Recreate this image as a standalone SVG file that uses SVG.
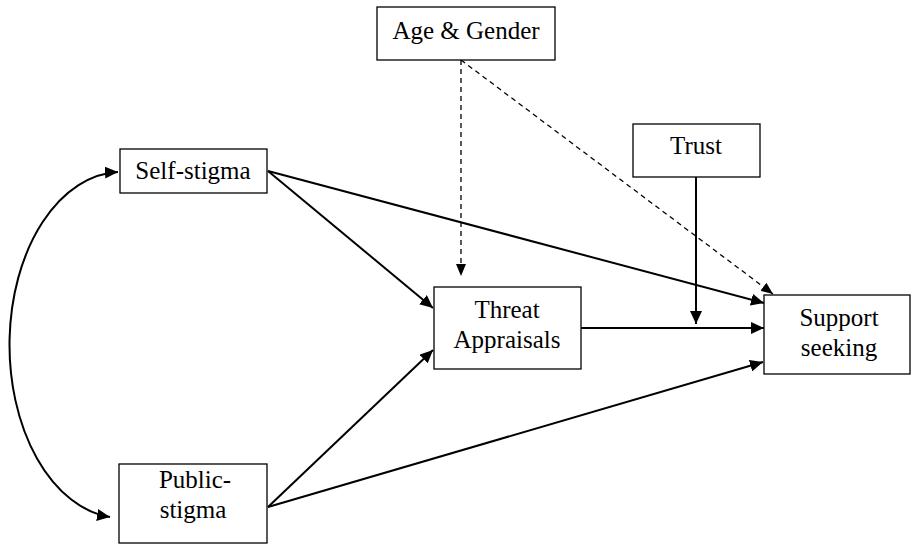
<svg xmlns="http://www.w3.org/2000/svg" width="912" height="545" viewBox="0 0 912 545">
<style>
.box{fill:#fff;stroke:#000;stroke-width:1.3}
.t{font-family:'Liberation Serif','Times New Roman',serif;font-size:25px;fill:#000;text-anchor:middle}
.c{fill:none;stroke:#000;stroke-width:2}
.d{fill:none;stroke:#000;stroke-width:1.3;stroke-dasharray:5,4}
</style>
<defs>
<marker id="ah" markerUnits="userSpaceOnUse" markerWidth="14" markerHeight="12" refX="13" refY="6" orient="auto-start-reverse">
<path d="M0,0 L13,6 L0,12 z" fill="#000"/>
</marker>
<marker id="ahs" markerUnits="userSpaceOnUse" markerWidth="12" markerHeight="11" refX="12" refY="5" orient="auto">
<path d="M0,0 L12,5 L0,10 z" fill="#000"/>
</marker>
</defs>
<g id="connectors">
<path class="c" d="M118,172 A112 173 0 0 0 110,517" marker-start="url(#ah)" marker-end="url(#ah)"/>
<line class="c" x1="268" y1="171" x2="433" y2="308" marker-end="url(#ah)"/>
<line class="c" x1="268" y1="171" x2="764" y2="303" marker-end="url(#ah)"/>
<line class="c" x1="268" y1="507" x2="433" y2="350" marker-end="url(#ah)"/>
<line class="c" x1="268" y1="507" x2="763" y2="362" marker-end="url(#ah)"/>
<line class="c" x1="581" y1="328" x2="764" y2="328" marker-end="url(#ah)"/>
<line class="c" x1="696" y1="177" x2="696" y2="324" marker-end="url(#ah)"/>
<line class="d" x1="461" y1="60" x2="461" y2="276" marker-end="url(#ahs)"/>
<line class="d" x1="461" y1="60" x2="773" y2="294" marker-end="url(#ahs)"/>
</g>
<g id="age-gender"><rect class="box" x="377" y="7" width="178" height="53"/><text class="t" x="466" y="39">Age &amp; Gender</text></g>
<g id="self-stigma"><rect class="box" x="120" y="149" width="147" height="44"/><text class="t" x="193" y="179">Self-stigma</text></g>
<g id="trust"><rect class="box" x="633" y="124" width="127" height="53"/><text class="t" x="696" y="154">Trust</text></g>
<g id="threat"><rect class="box" x="434" y="287" width="147" height="82"/><text class="t" x="507" y="318">Threat</text><text class="t" x="507" y="348">Appraisals</text></g>
<g id="support"><rect class="box" x="764" y="295" width="146" height="79"/><text class="t" x="839" y="326">Support</text><text class="t" x="839" y="356">seeking</text></g>
<g id="public-stigma"><rect class="box" x="119" y="464" width="148" height="79"/><text class="t" x="195" y="488">Public-</text><text class="t" x="193" y="518">stigma</text></g>
</svg>
